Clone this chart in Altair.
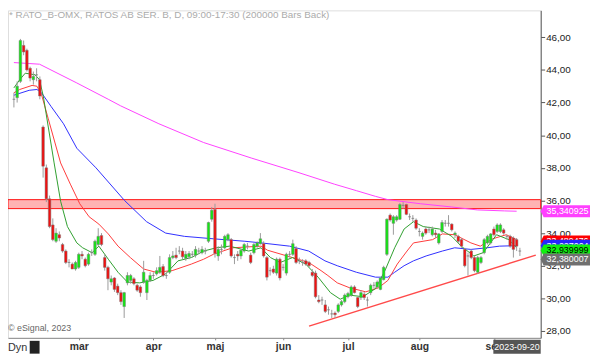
import json
import altair as alt
import pandas as pd

# ---------------- data ----------------
opens = [42.2, 42.3, 43.3, 45.5, 45.2, 44.1, 43.4, 43.7, 43.4, 40.5,
         38.0, 36.1, 34.5, 33.5, 33.9, 33.3, 32.9, 32.2, 32.1, 31.8,
         31.9, 32.7, 32.4, 32.1, 32.8, 32.7, 33.3, 33.85, 32.5, 31.9,
         31.0, 31.25, 30.75, 30.35, 29.5, 30.95, 31.1, 31.2, 30.8, 30.7,
         31.0, 30.35, 31.1, 31.4, 31.5, 31.6, 31.95, 31.4, 31.6, 32.5,
         32.65, 32.9, 32.9, 32.45, 32.55, 32.7, 32.65, 32.9, 32.8, 32.9,
         33.5, 34.85, 35.45, 32.6, 33.0, 33.1, 33.6, 33.6, 32.5, 32.7,
         32.6, 32.9, 33.2, 32.65, 32.8, 33.2, 33.35, 33.35, 32.5, 31.7,
         31.8, 31.55, 32.4, 31.9, 31.55, 32.7, 32.7, 33.05, 32.3, 32.2,
         32.3, 32.2, 31.6, 31.55, 29.9, 29.9, 29.6, 29.3, 29.05, 29.1,
         29.2, 29.6, 29.8, 30.1, 30.2, 30.7, 30.05, 30.05, 30.25, 29.9,
         30.35, 30.8, 30.7, 30.55, 31.15, 32.7, 35.1, 34.6, 34.8, 34.85,
         35.7, 35.75, 35.0, 34.9, 34.8, 34.1, 33.8, 34.25, 34.2, 33.9,
         34.0, 33.4, 34.1, 34.6, 34.6, 34.55, 33.9, 33.8, 33.6, 33.0,
         32.6, 32.9, 32.5, 31.6, 32.2, 32.8, 33.4, 33.4, 34.25, 34.1,
         34.1, 34.2, 33.8, 33.8, 33.7, 33.6, 32.9]
highs = [42.6, 43.3, 45.9, 45.8, 45.3, 44.2, 43.9, 44.1, 43.6, 40.6,
         38.2, 36.3, 34.9, 34.3, 34.1, 33.4, 33.0, 32.4, 32.2, 32.3,
         32.8, 32.9, 32.5, 32.8, 33.0, 33.6, 34.3, 34.0, 32.7, 32.0,
         31.4, 31.3, 30.9, 30.5, 30.4, 31.6, 31.5, 31.3, 30.9, 30.8,
         32.3, 31.2, 31.6, 31.6, 31.9, 32.6, 32.1, 31.6, 32.7, 32.9,
         33.1, 33.2, 33.1, 32.9, 32.9, 32.9, 33.2, 33.1, 33.2, 33.1,
         34.7, 35.6, 35.8, 33.2, 33.3, 33.9, 34.0, 33.7, 32.7, 32.9,
         33.0, 33.4, 33.4, 32.8, 33.4, 33.5, 34.0, 33.5, 32.6, 31.9,
         32.0, 32.5, 32.5, 32.1, 32.8, 32.9, 33.6, 33.2, 32.5, 32.4,
         32.4, 32.3, 31.8, 31.7, 30.2, 30.1, 29.9, 29.5, 29.3, 29.2,
         29.7, 29.9, 30.3, 30.4, 30.8, 30.8, 30.1, 30.5, 30.4, 30.1,
         30.9, 31.0, 31.1, 31.3, 32.0, 34.9, 35.2, 35.1, 35.1, 35.85,
         35.9, 35.8, 35.2, 35.1, 34.9, 34.3, 34.1, 34.4, 34.4, 34.4,
         34.2, 34.0, 34.8, 34.8, 35.1, 34.6, 34.1, 33.9, 33.7, 33.1,
         32.8, 33.0, 32.6, 32.6, 32.6, 33.7, 33.9, 34.0, 34.4, 34.6,
         34.6, 34.3, 33.9, 33.9, 33.8, 33.7, 33.1]
lows = [41.7, 42.0, 43.2, 44.9, 43.9, 43.3, 43.1, 43.3, 42.2, 37.4,
        35.9, 34.3, 33.5, 33.4, 33.5, 32.8, 32.1, 31.9, 31.8, 31.7,
        31.8, 32.4, 31.9, 32.0, 32.6, 32.6, 33.2, 33.2, 31.7, 30.5,
        30.8, 30.4, 30.2, 29.6, 28.8, 30.8, 30.9, 30.8, 30.4, 30.1,
        30.9, 29.9, 31.0, 31.2, 31.4, 31.5, 31.3, 31.2, 31.5, 32.4,
        32.4, 32.7, 32.4, 32.3, 32.4, 32.5, 32.5, 32.7, 32.7, 32.7,
        33.4, 34.7, 32.5, 32.3, 32.7, 33.0, 33.5, 32.5, 32.1, 32.3,
        32.4, 32.8, 33.0, 32.1, 32.7, 33.1, 33.3, 32.5, 31.1, 31.4,
        31.5, 31.4, 31.1, 31.7, 31.4, 32.5, 32.6, 32.1, 32.1, 32.0,
        32.0, 31.9, 31.3, 30.0, 29.7, 29.6, 29.1, 29.0, 28.8, 28.8,
        29.1, 29.5, 29.7, 30.0, 30.1, 30.3, 29.4, 29.9, 29.9, 29.5,
        30.2, 30.6, 30.6, 30.5, 31.1, 32.6, 34.7, 33.9, 34.7, 34.8,
        35.5, 35.1, 34.8, 34.7, 34.2, 33.8, 33.6, 33.9, 34.0, 33.8,
        33.7, 33.3, 34.0, 34.4, 34.4, 34.1, 33.7, 33.4, 33.1, 31.9,
        31.4, 32.4, 31.6, 31.5, 32.1, 32.7, 33.3, 33.3, 33.8, 34.0,
        34.0, 33.9, 33.6, 33.1, 32.5, 32.9, 32.6]
closes = [42.2, 43.0, 45.8, 45.1, 44.0, 43.5, 43.6, 43.7, 42.4, 38.1,
          36.1, 34.4, 33.6, 34.0, 33.7, 32.9, 32.2, 32.2, 31.8, 32.2,
          32.7, 32.6, 32.0, 32.7, 32.8, 33.5, 33.8, 33.3, 31.9, 31.2,
          31.2, 30.55, 30.35, 29.8, 30.35, 31.4, 31.4, 30.9, 30.5, 30.35,
          31.6, 31.1, 31.4, 31.4, 31.7, 31.9, 31.4, 31.4, 32.5, 32.6,
          32.5, 32.9, 32.55, 32.7, 32.75, 32.7, 33.0, 32.9, 33.0, 32.9,
          34.65, 35.4, 32.75, 33.0, 33.0, 33.8, 33.9, 32.6, 32.5, 32.6,
          32.95, 33.3, 33.2, 32.2, 33.3, 33.4, 33.65, 32.6, 31.3, 31.7,
          31.6, 32.4, 31.25, 31.9, 32.7, 32.7, 33.35, 32.2, 32.3, 32.2,
          32.1, 32.0, 31.4, 30.1, 29.8, 29.9, 29.2, 29.3, 29.05, 29.0,
          29.6, 29.8, 30.2, 30.3, 30.7, 30.35, 29.5, 30.35, 30.05, 29.9,
          30.8, 30.8, 31.0, 31.25, 31.9, 34.85, 34.8, 35.0, 35.0, 35.75,
          35.7, 35.15, 35.0, 34.9, 34.3, 34.1, 34.0, 34.0, 34.2, 34.25,
          33.9, 33.95, 34.65, 34.6, 34.6, 34.2, 34.0, 33.5, 33.2, 32.0,
          32.6, 32.5, 31.7, 32.5, 32.5, 33.6, 33.8, 33.95, 33.9, 34.5,
          34.5, 34.0, 33.8, 33.2, 33.0, 33.2, 32.9]

ma_green_pos = [0, 1.8, 3.5, 6.5, 7.9, 9.1, 10.6, 12.4, 14.4, 16.5,
                19.4, 21.2, 24.1, 26.2, 29.1, 32.1, 35.0, 38.8, 42.9, 46.8,
                50.6, 54.7, 58.5, 62.4, 66.5, 72.4, 76.2, 79.1, 82.1, 85.9,
                90.0, 93.8, 97.6, 100.6, 103.5, 107.6, 111.5, 114.4, 117.4, 120.3,
                123.2, 126.2, 131.2, 135.0, 137.9, 141.8, 144.7, 148.8, 152.6, 155.0]
ma_green_val = [42.9, 43.4, 43.8, 43.7, 43.4, 42.35, 40.5, 38.3, 35.95, 34.4,
                33.4, 33.1, 32.8, 33.2, 32.4, 31.6, 31.0, 30.95, 31.1, 31.5,
                32.3, 32.5, 32.9, 33.1, 33.2, 32.9, 33.1, 32.5, 32.2, 32.5,
                32.1, 31.3, 30.35, 29.95, 30.2, 30.1, 30.6, 31.7, 33.1, 34.25,
                34.7, 34.4, 34.25, 33.8, 33.2, 32.6, 32.8, 33.9, 33.6, 33.1]

ma_red_pos = [0, 1.8, 5.6, 7.1, 8.5, 10.6, 14.4, 17.4, 20.3, 23.2,
              26.2, 29.1, 32.1, 35.9, 40.0, 43.8, 48.8, 54.7, 58.5, 61.5,
              67.4, 76.2, 78.2, 85.9, 90.9, 94.7, 96.8, 99.7, 103.5, 108.5,
              112.4, 115.3, 118.2, 121.2, 123.2, 129.1, 132.1, 135.9, 140.9, 143.8,
              147.6, 151.8, 155.0]
ma_red_val = [42.6, 42.8, 43.05, 43.0, 42.5, 41.0, 38.3, 37.0, 35.8, 35.0,
              34.55, 33.95, 33.2, 32.5, 31.8, 31.6, 31.7, 32.1, 32.4, 32.7,
              33.1, 33.2, 32.95, 32.5, 32.2, 31.7, 31.4, 30.95, 30.65, 30.4,
              30.65, 31.1, 32.1, 32.9, 33.4, 33.6, 33.95, 33.9, 33.4, 33.2,
              33.65, 33.9, 33.6]

ma_blue_pos = [0, 4.7, 7.1, 8.5, 11.5, 15.3, 19.4, 25.3, 34.1, 40.9,
               46.8, 52.6, 61.5, 71.2, 76.2, 85.0, 90.9, 95.9, 99.7, 105.6,
               111.5, 115.3, 117.4, 120.3, 123.2, 127.1, 132.1, 135.9, 140.9, 145.9,
               149.7, 155.0]
ma_blue_val = [42.45, 42.75, 42.8, 42.6, 41.75, 40.7, 39.2, 38.0, 36.0, 34.7,
               34.0, 33.8, 33.65, 33.5, 33.4, 33.2, 32.9, 32.3, 32.0, 31.6,
               31.3, 31.3, 31.6, 32.0, 32.3, 32.6, 32.9, 33.1, 33.0, 33.1,
               33.2, 33.23]

ma_magenta_pos = [0, 7.9, 19.4, 29.1, 32.9, 44.7, 58.5, 73.2, 87.9, 98.8,
                  105.6, 111.5, 115.3, 125.3, 135.0, 142.9, 151.2, 155.0]
ma_magenta_val = [44.45, 44.35, 43.2, 42.2, 41.8, 40.7, 39.55, 38.6, 37.7, 37.0,
                  36.6, 36.25, 36.05, 35.8, 35.6, 35.42, 35.36, 35.34]

trend_pos = [91.0, 160.9]
trend_val = [28.3, 32.65]

band_top = 36.05
band_bottom = 35.5

y_ticks = [28, 30, 32, 34, 36, 38, 40, 42, 44, 46]
month_pos = [20, 43, 62, 83, 103, 125, 148]
month_names = ["mar", "apr", "maj", "jun", "jul", "aug", "sep"]

tag_values = [35.340925, 33.489476, 33.227004, 32.939999, 32.380007]
tag_texts = ["35,340925", "33,489476", "33,227004", "32,939999", "32,380007"]
tag_fill = ["#FF40FF", "#FF0000", "#2626FF", "#10F010", "#707070"]
tag_ink = ["#FFFFFF", "#FFFFFF", "#FFFFFF", "#000000", "#FFFFFF"]

title_text = "* RATO_B-OMX, RATOS AB SER. B, D, 09:00-17:30 (200000 Bars Back)"
credit_text = "\u00a9 eSignal, 2023"
date_text = "2023-09-20"

# ---------------- chart ----------------
W, H = 540, 332
XDOM = [-0.3, 160.9]
YDOM = [27.58, 47.65]
FONT = "Liberation Sans"

xscale = alt.Scale(domain=XDOM, nice=False, zero=False)
yscale = alt.Scale(domain=YDOM, nice=False, zero=False)

x_label_expr = "%s[indexof(%s, datum.value)]" % (json.dumps(month_names), json.dumps(month_pos))
xaxis = alt.Axis(values=month_pos, labelExpr=x_label_expr, title=None, grid=False,
                 domainColor="#8a8a8a", tickColor="#8a8a8a", tickSize=2,
                 labelFontSize=10.5, labelFontWeight="bold", labelColor="#333333",
                 labelPadding=2, labelFont=FONT, labelOverlap=False, labelFlush=False)
yaxis = alt.Axis(orient="right", values=y_ticks, title=None, grid=False,
                 labelExpr="replace(format(datum.value, '.2f'), '.', ',')",
                 domainColor="#555555", tickColor="#555555", tickSize=4,
                 labelFontSize=10, labelColor="#222222", labelPadding=1, labelFont=FONT)


def X(field):
    return alt.X(field, type="quantitative", scale=xscale, axis=xaxis)


def Y(field):
    return alt.Y(field, type="quantitative", scale=yscale, axis=yaxis)


def Y2(field):
    return alt.Y2(field)


candles = pd.DataFrame({"i": list(range(len(opens))), "o": opens, "h": highs,
                        "l": lows, "c": closes})
candles["dir"] = ["up" if c > o else ("down" if c < o else "flat")
                  for o, c in zip(opens, closes)]

layers = []

# resistance band
band = alt.Chart(pd.DataFrame({"top": [band_top], "bot": [band_bottom]})).mark_rect(
    fill="#FFB3B3", stroke="#FF1010", strokeWidth=1
).encode(x=alt.value(0), x2=alt.value(W), y=Y("top"), y2=Y2("bot"))
layers.append(band)

# moving averages
for pos, val, col in [(ma_magenta_pos, ma_magenta_val, "#FF40FF"),
                      (ma_blue_pos, ma_blue_val, "#2E2EFF"),
                      (ma_red_pos, ma_red_val, "#FF3A3A"),
                      (ma_green_pos, ma_green_val, "#2E9E2E")]:
    df = pd.DataFrame({"p": pos, "v": val})
    layers.append(alt.Chart(df).mark_line(color=col, strokeWidth=1).encode(
        x=X("p"), y=Y("v")))

# trend line
layers.append(alt.Chart(pd.DataFrame({"p": trend_pos, "v": trend_val})).mark_line(
    color="#FF4A4A", strokeWidth=1.5).encode(x=X("p"), y=Y("v")))

# wicks and bodies
layers.append(alt.Chart(candles).mark_rule(color="#9A9A9A", strokeWidth=1).encode(
    x=X("i"), y=Y("l"), y2=Y2("h")))
layers.append(alt.Chart(candles).mark_bar(size=2.6, stroke="#7A7A7A", strokeWidth=0.5).encode(
    x=X("i"), y=Y("o"), y2=Y2("c"),
    color=alt.Color("dir:N", legend=None,
                    scale=alt.Scale(domain=["up", "down", "flat"],
                                    range=["#14E614", "#F01010", "#888888"]))))

# price tags on the right
tag_shape = "M-1,0L-0.88,-0.24L1,-0.24L1,0.24L-0.88,0.24Z"
for v, t, f, ink in zip(tag_values, tag_texts, tag_fill, tag_ink):
    df = pd.DataFrame({"v": [v], "t": [t]})
    layers.append(alt.Chart(df).mark_point(shape=tag_shape, filled=True, size=2500,
                                           opacity=1, color=f, strokeWidth=0).encode(
        x=alt.value(W + 25), y=Y("v")))
    layers.append(alt.Chart(df).mark_text(align="left", baseline="middle", fontSize=9,
                                          font=FONT, color=ink).encode(
        x=alt.value(W + 6), y=Y("v"), text="t:N"))

# texts
layers.append(alt.Chart(pd.DataFrame({"t": [title_text]})).mark_text(
    align="left", baseline="middle", fontSize=10, font=FONT, color="#ABABAB").encode(
    x=alt.value(1), y=alt.value(5), text="t:N"))
layers.append(alt.Chart(pd.DataFrame({"t": [credit_text]})).mark_text(
    align="left", baseline="middle", fontSize=9, font=FONT, color="#666666").encode(
    x=alt.value(0), y=alt.value(322), text="t:N"))
layers.append(alt.Chart(pd.DataFrame({"t": ["Dyn"]})).mark_text(
    align="left", baseline="middle", fontSize=11, font=FONT, color="#333333").encode(
    x=alt.value(0), y=alt.value(342), text="t:N"))
layers.append(alt.Chart(pd.DataFrame({"t": [""]})).mark_rect(color="#222222").encode(
    x=alt.value(22), x2=alt.value(32), y=alt.value(335), y2=alt.value(348)))
layers.append(alt.Chart(pd.DataFrame({"t": [date_text]})).mark_rect(color="#555555").encode(
    x=alt.value(W - 48), x2=alt.value(W), y=alt.value(334), y2=alt.value(348)))
layers.append(alt.Chart(pd.DataFrame({"t": [date_text]})).mark_text(
    align="center", baseline="middle", fontSize=9, font=FONT, color="#FFFFFF").encode(
    x=alt.value(W - 24), y=alt.value(341.5), text="t:N"))

chart = alt.layer(*layers).properties(
    width=W, height=H,
    padding={"left": 0, "top": 0, "right": 52, "bottom": 16},
    autosize=alt.AutoSizeParams(type="none"),
    background="white",
).configure_view(stroke=None).configure(font=FONT)

chart.save("out.html", embed_options={"renderer": "svg", "actions": False})
